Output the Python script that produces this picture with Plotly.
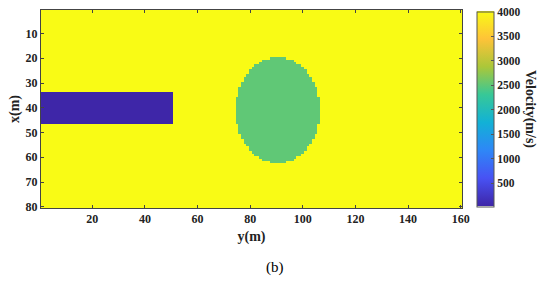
import numpy as np
import plotly.graph_objects as go

# model grid (cells) and velocities in m/s
n_cols = 160          # y(m)
n_rows = 80           # x(m)
v_background = 4000
v_tunnel = 30
v_anomaly = 2500

# tunnel rectangle: rows 34-46, columns 1-50
tunnel_rows = [34, 46]
tunnel_cols = [1, 50]

# elliptical anomaly: centre (col, row) and semi-axes
ellipse_center = [90.5, 41]
ellipse_axes = [16, 21.5]

x_ticks = [20, 40, 60, 80, 100, 120, 140, 160]
y_ticks = [10, 20, 30, 40, 50, 60, 70, 80]
cbar_ticks = [500, 1000, 1500, 2000, 2500, 3000, 3500, 4000]

cols = np.arange(1, n_cols + 1)
rows = np.arange(1, n_rows + 1)
C, R = np.meshgrid(cols, rows)
z = np.full(C.shape, float(v_background))
z[(R >= tunnel_rows[0]) & (R <= tunnel_rows[1]) &
  (C >= tunnel_cols[0]) & (C <= tunnel_cols[1])] = v_tunnel
inside = ((C - ellipse_center[0]) / ellipse_axes[0]) ** 2 + \
         ((R - ellipse_center[1]) / ellipse_axes[1]) ** 2 <= 1
z[inside] = v_anomaly

# matlab parula approximation
parula = [
    [0.0, "rgb(62,38,168)"],
    [1 / 7, "rgb(72,82,244)"],
    [2 / 7, "rgb(46,135,247)"],
    [3 / 7, "rgb(18,177,214)"],
    [4 / 7, "rgb(55,200,151)"],
    [5 / 7, "rgb(171,199,57)"],
    [6 / 7, "rgb(254,195,56)"],
    [1.0, "rgb(249,251,21)"],
]


def bold(vals):
    return ["<b>%d</b>" % v for v in vals]


tick_font = dict(family="Liberation Serif", size=12, color="#222")
title_font = dict(family="Liberation Serif", size=14, color="#222")

fig = go.Figure(go.Heatmap(
    x=cols, y=rows, z=z,
    colorscale=parula, zmin=v_tunnel, zmax=v_background,
    colorbar=dict(
        x=477 / 550, xanchor="left", xref="container", xpad=0, ypad=0,
        y=0.5, yanchor="middle", len=0.985, thickness=17,
        outlinewidth=1, outlinecolor="#555",
        tickvals=cbar_ticks, ticktext=bold(cbar_ticks),
        ticks="inside", ticklen=3, tickcolor="#555",
        tickfont=dict(family="Liberation Serif", size=11.5, color="#222"),
    ),
))

axis_common = dict(
    showline=True, linecolor="#444", linewidth=1, mirror="ticks",
    ticks="inside", ticklen=3, tickcolor="#444", showgrid=False, zeroline=False,
    tickfont=tick_font, automargin=False,
)

fig.update_xaxes(range=[0.5, n_cols + 0.5], tickvals=x_ticks, ticktext=bold(x_ticks),
                 title=dict(text="<b>y(m)</b>", standoff=5, font=title_font),
                 **axis_common)
fig.update_yaxes(range=[n_rows + 0.5, 0.5], tickvals=y_ticks, ticktext=bold(y_ticks),
                 title=dict(text="<b>x(m)</b>", standoff=2, font=title_font),
                 **axis_common)

fig.add_annotation(text="<b>Velocity(m/s)</b>", textangle=90,
                   xref="paper", yref="paper", x=(540 - 41) / 421, y=0.5,
                   showarrow=False, font=title_font)
fig.add_annotation(text="(b)", xref="paper", yref="paper", x=(275 - 41) / 421,
                   y=(208 - 267) / 198, yanchor="middle", showarrow=False,
                   font=dict(family="Liberation Serif", size=15, color="black"))

fig.update_layout(
    width=550, height=282,
    margin=dict(l=41, r=88, t=10, b=74),
    paper_bgcolor="white", plot_bgcolor="white",
    font=tick_font,
)

# drop the default page margin so the figure sits at the window origin
fig.write_html("out.html", config={"displayModeBar": False},
               post_script="document.body.style.margin='0';")
